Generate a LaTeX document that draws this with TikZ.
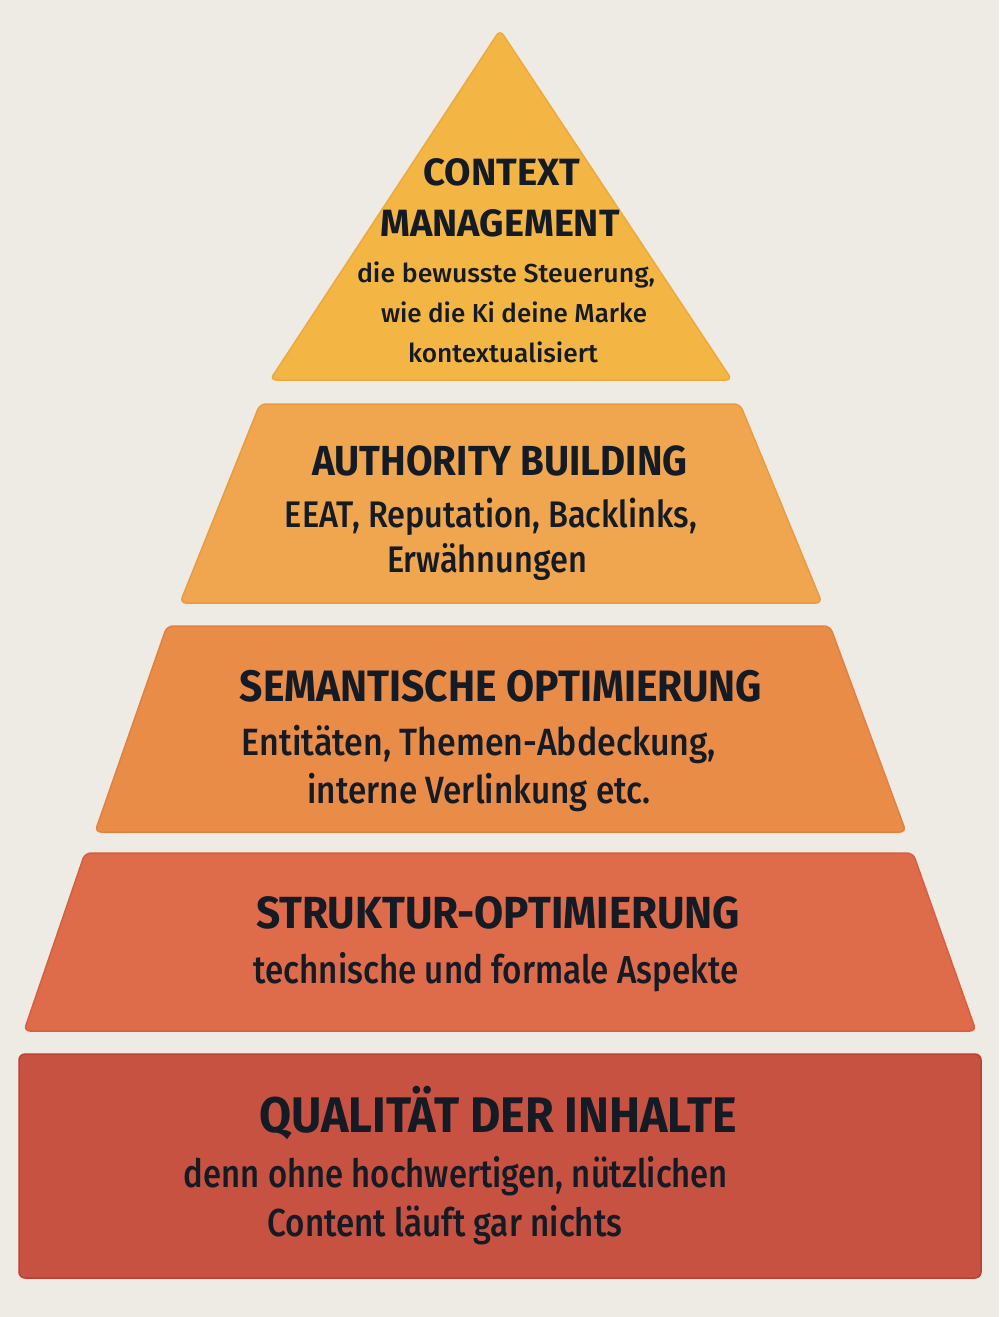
\documentclass[tikz,border=0pt]{standalone}
\usepackage{fontspec}
\setmainfont{Fira Sans}
\newfontfamily\medf{Fira Sans Medium}
\usepackage{graphicx}
\definecolor{bg}{HTML}{EEEAE4}
\definecolor{txt}{HTML}{151B25}
\definecolor{c1}{HTML}{F3B543}\definecolor{b1}{HTML}{EFA93A}
\definecolor{c2}{HTML}{F0A64F}\definecolor{b2}{HTML}{EC9A3E}
\definecolor{c3}{HTML}{E98C48}\definecolor{b3}{HTML}{E47F3C}
\definecolor{c4}{HTML}{DE6B49}\definecolor{b4}{HTML}{D95E3E}
\definecolor{c5}{HTML}{C75241}\definecolor{b5}{HTML}{BF3F33}
\newcommand{\fitw}[2]{\resizebox{#1pt}{\height}{#2}}
\tikzset{
  tier/.style={rounded corners=6pt, line width=1.5pt, line join=round},
  lbl/.style={text=txt, inner sep=0pt, anchor=base},
}
\begin{document}
\begin{tikzpicture}[x=1pt,y=-1pt]
\fill[bg] (0,0) rectangle (999,1317);
\useasboundingbox (0,0) rectangle (999,1317);
% shapes
\filldraw[tier, fill=c1, draw=b1] (500,30) -- (732,380) -- (270,380) -- cycle;
\filldraw[tier, fill=c2, draw=b2] (260,404) -- (740,404) -- (822,603) -- (180,603) -- cycle;
\filldraw[tier, fill=c3, draw=b3] (167,626) -- (830,626) -- (906,832) -- (95,832) -- cycle;
\filldraw[tier, fill=c4, draw=b4] (85,853) -- (913,853) -- (976,1031) -- (24,1031) -- cycle;
\filldraw[tier, fill=c5, draw=b5] (19,1054) rectangle (981,1278);
% tier 1
\node[lbl] (t1a) at (502,185) {\fitw{157}{\fontsize{38}{38}\selectfont\bfseries CONTEXT}};
\node[lbl] (t1b) at (500,236) {\fitw{239}{\fontsize{38}{38}\selectfont\bfseries MANAGEMENT}};
\node[lbl] (t1c) at (506,282) {\fitw{298}{\fontsize{26}{26}\selectfont\medf die bewusste Steuerung,}};
\node[lbl] (t1d) at (514,322) {\fitw{266}{\fontsize{26}{26}\selectfont\medf wie die Ki deine Marke}};
\node[lbl] (t1e) at (503,362) {\fitw{190}{\fontsize{26}{26}\selectfont\medf kontextualisiert}};
% tier 2
\node[lbl] (t2a) at (500,475) {\fitw{375}{\fontsize{42}{42}\selectfont\bfseries AUTHORITY BUILDING}};
\node[lbl] (t2b) at (491,527) {\fitw{412}{\fontsize{37}{37}\selectfont\medf EEAT, Reputation, Backlinks,}};
\node[lbl] (t2c) at (487,572) {\fitw{200}{\fontsize{37}{37}\selectfont\medf Erwähnungen}};
% tier 3
\node[lbl] (t3a) at (501,701) {\fitw{522}{\fontsize{44}{44}\selectfont\bfseries SEMANTISCHE OPTIMIERUNG}};
\node[lbl] (t3b) at (479,755) {\fitw{474}{\fontsize{38}{38}\selectfont\medf Entitäten, Themen-Abdeckung,}};
\node[lbl] (t3c) at (479,803) {\fitw{343}{\fontsize{38}{38}\selectfont\medf interne Verlinkung etc.}};
% tier 4
\node[lbl] (t4a) at (498,928) {\fitw{484}{\fontsize{45}{45}\selectfont\bfseries STRUKTUR-OPTIMIERUNG}};
\node[lbl] (t4b) at (496,983) {\fitw{485}{\fontsize{39}{39}\selectfont\medf technische und formale Aspekte}};
% tier 5
\node[lbl] (t5a) at (498,1132) {\fitw{478}{\fontsize{50}{50}\selectfont\bfseries QUALITÄT DER INHALTE}};
\node[lbl] (t5b) at (456,1187) {\fitw{544}{\fontsize{39}{39}\selectfont\medf denn ohne hochwertigen, nützlichen}};
\node[lbl] (t5c) at (445,1236) {\fitw{355}{\fontsize{39}{39}\selectfont\medf Content läuft gar nichts}};
\end{tikzpicture}
\end{document}
